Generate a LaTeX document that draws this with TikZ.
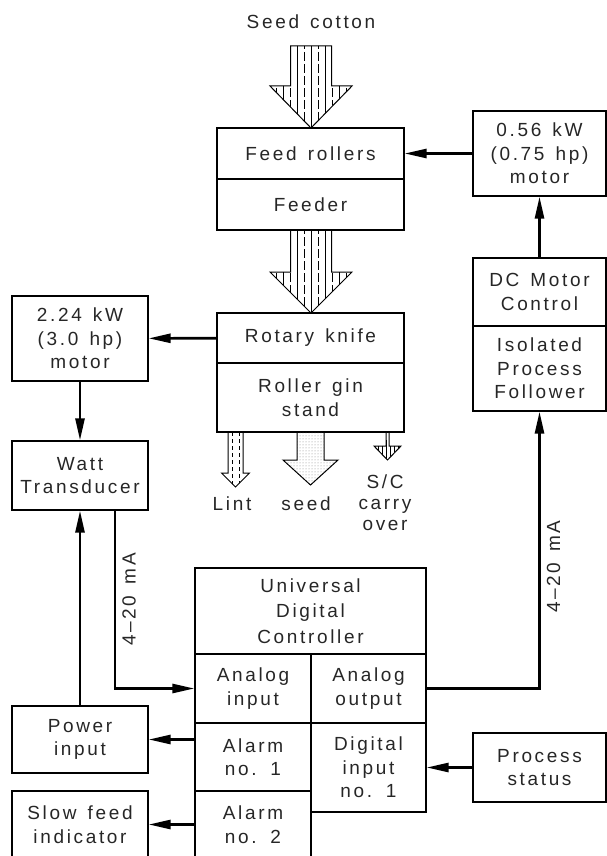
\documentclass[tikz,border=0pt]{standalone}
\usepackage{fontspec}
\setmainfont{Liberation Sans}[LetterSpace=14,WordSpace=1.4]
\usetikzlibrary{arrows.meta,patterns}

% outline of a broad flow arrow: centre x, shaft half width, head half width, top, head start, tip
\newcommand{\flowshape}[6]{({#1-#2},#4) -- ({#1+#2},#4) -- ({#1+#2},#5) -- ({#1+#3},#5) -- (#1,#6) -- ({#1-#3},#5) -- ({#1-#2},#5) -- cycle}

\begin{document}
\begin{tikzpicture}[x=1pt,y=-1pt,
  box/.style={draw,line width=1.2pt,inner sep=0pt,align=center,text=black!85,font=\fontsize{19}{23.5}\selectfont},
  txt/.style={inner sep=0pt,align=center,text=black!85,font=\fontsize{19}{21}\selectfont},
  conn/.style={line width=2.6pt,-{Triangle[length=22pt,width=9pt]}}]
\useasboundingbox (0,0) rectangle (607,856);
\clip (0,0) rectangle (607,856);

% gin train
\node[txt] (seedin) at (311,22) {Seed cotton};
\node[box,minimum width=187,minimum height=51] (feedrl) at (310.5,153.5) {Feed rollers};
\node[box,minimum width=187,minimum height=51] (feeder) at (310.5,204.5) {Feeder};
\node[box,minimum width=187,minimum height=50] (knife) at (310.5,338) {Rotary knife};
\node[box,minimum width=187,minimum height=69] (gin) at (310.5,397.5) {Roller gin\\stand};

% drives and instruments
\node[box,minimum width=136,minimum height=85] (motorL) at (80,338.5) {2.24 kW\\(3.0 hp)\\motor};
\node[box,minimum width=136,minimum height=69] (watt) at (80,475.5) {Watt\\Transducer};
\node[box,minimum width=136,minimum height=67] (power) at (80,739.5) {Power\\input};
\node[box,minimum width=136,minimum height=67] (slow) at (80,824.5) {Slow feed\\indicator};
\node[box,minimum width=133,minimum height=85] (motorR) at (539.5,153.5) {0.56 kW\\(0.75 hp)\\motor};
\node[box,minimum width=133,minimum height=68] (dc) at (539.5,292) {DC Motor\\Control};
\node[box,minimum width=133,minimum height=85] (iso) at (539.5,368.5) {Isolated\\Process\\Follower};
\node[box,minimum width=133,minimum height=69] (process) at (539.5,767.5) {Process\\status};

% controller
\node[box,minimum width=231,minimum height=86,font=\fontsize{19}{25.5}\selectfont] (univ) at (310.5,611) {Universal\\Digital\\Controller};
\node[box,minimum width=116,minimum height=69] (ain) at (253,688.5) {Analog\\input};
\node[box,minimum width=115,minimum height=69] (aout) at (368.5,688.5) {Analog\\output};
\node[box,minimum width=116,minimum height=68] (alarmA) at (253,757) {Alarm\\no. 1};
\node[box,minimum width=115,minimum height=89] (din) at (368.5,767.5) {Digital\\input\\no. 1};
\node[box,minimum width=116,minimum height=67] (alarmB) at (253,824.5) {Alarm\\no. 2};

% material flow
\begin{scope}
\clip \flowshape{311}{20.5}{41}{46}{86}{128};
\foreach \x [count=\i] in {276,283,...,346} {
  \ifodd\i \draw[line width=0.6pt,dash pattern=on 9pt off 3pt] (\x,40) -- (\x,130);
  \else \draw[line width=0.6pt] (\x,40) -- (\x,130); \fi}
\end{scope}
\draw[line width=1pt,line join=miter] \flowshape{311}{20.5}{41}{46}{86}{128};
\begin{scope}
\clip \flowshape{311}{20.5}{41}{230}{272}{313};
\foreach \x [count=\i] in {276,283,...,346} {
  \ifodd\i \draw[line width=0.6pt,dash pattern=on 9pt off 3pt] (\x,225) -- (\x,315);
  \else \draw[line width=0.6pt] (\x,225) -- (\x,315); \fi}
\end{scope}
\draw[line width=1pt] \flowshape{311}{20.5}{41}{230}{272}{313};

\begin{scope}
\clip \flowshape{235.5}{7.5}{14}{432}{473}{487};
\foreach \x in {232,239} \draw[line width=0.6pt,dash pattern=on 4pt off 3pt] (\x,432) -- (\x,490);
\end{scope}
\draw[line width=1pt] \flowshape{235.5}{7.5}{14}{432}{473}{487};
\draw[line width=1pt,pattern=dots,pattern color=gray] \flowshape{310.5}{13.5}{27.5}{432}{460}{485};
\begin{scope}
\clip \flowshape{387.5}{1.5}{13.5}{432}{446}{460};
\foreach \x in {378,382,...,398} \draw[line width=0.6pt] (\x,440) -- (\x,462);
\end{scope}
\draw[line width=1pt] \flowshape{387.5}{1.5}{13.5}{432}{446}{460};

\node[txt] (lint) at (232,504) {Lint};
\node[txt] (seedout) at (306,504) {seed};
\node[txt] (carry) at (385,503) {S/C\\carry\\over};

% signals
\draw[conn] (motorR) -- (feedrl);
\draw[conn] (dc.north) -- (motorR.south);
\draw[conn] (knife) -- (motorL);
\draw[conn] (motorL) -- (watt);
\draw[conn] (power) -- (watt);
\draw[conn] ([xshift=35pt]watt.south) |- node[pos=0.25,rotate=90,anchor=north,inner sep=6pt,text=black!85,font=\fontsize{19}{21}\selectfont] {4--20 mA} (ain.west);
\draw[conn] (aout.east) -| node[pos=0.72,rotate=90,anchor=north,inner sep=6pt,text=black!85,font=\fontsize{19}{21}\selectfont] {4--20 mA} (iso.south);
\draw[conn] (alarmA.west |- power.east) -- (power.east);
\draw[conn] (alarmB.west |- slow.east) -- (slow.east);
\draw[conn] (process) -- (din);
\end{tikzpicture}
\end{document}
